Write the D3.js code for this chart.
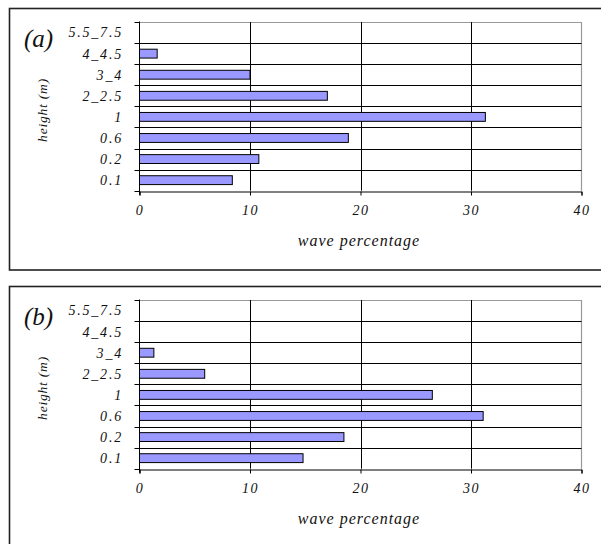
<!DOCTYPE html>
<html>
<head>
<meta charset="utf-8">
<script src="https://cdn.jsdelivr.net/npm/d3@7"></script>
<style>
  body { margin: 0; background: #fff; }
</style>
</head>
<body>
<div id="chart"></div>
<script>
// wave height classes (bottom to top)
var heights = ["0.1", "0.2", "0.6", "1", "2_2.5", "3_4", "4_4.5", "5.5_7.5"];
// wave percentage per class, panel (a) and (b)
var waveA = [8.4, 10.8, 18.9, 31.3, 17.0, 10.0, 1.6, 0];
var waveB = [14.8, 18.5, 31.1, 26.5, 5.9, 1.3, 0, 0];
var xTicks = [0, 10, 20, 30, 40];
var panelLabels = ["(a)", "(b)"];

var width = 601, height = 544;
var serif = "'Liberation Serif', 'Times New Roman', serif";

var svg = d3.select("#chart").append("svg")
    .attr("width", width)
    .attr("height", height);

function styleText(sel, size, spacing) {
    sel.style("font-family", serif)
        .style("font-style", "italic")
        .style("font-size", size + "px")
        .style("letter-spacing", spacing + "px")
        .attr("fill", "#111");
}

function drawPanel(values, label, top) {
    var g = svg.append("g").attr("transform", "translate(0," + top + ")");

    // outer frame
    g.append("rect")
        .attr("x", 9.5).attr("y", 8.5)
        .attr("width", 620).attr("height", 261.5)
        .attr("fill", "none")
        .attr("stroke", "#222")
        .attr("stroke-width", 1.6);

    var x = d3.scaleLinear().domain([0, 40]).range([139.5, 581.5]);
    var y = d3.scaleBand()
        .domain(heights.slice().reverse())
        .range([22, 190.7])
        .paddingInner(0.58)
        .paddingOuter(0.29);
    var step = y.step();
    var bounds = d3.range(heights.length + 1).map(function(i) { return 22 + i * step; });

    // plot area border (top and right in grey)
    g.append("path")
        .attr("d", "M" + x(0) + "," + (Math.round(bounds[0]) + 0.5) + "H" + x(40) + "V" + (bounds[heights.length]))
        .attr("fill", "none")
        .attr("stroke", "#999")
        .attr("stroke-width", 1.2);

    // horizontal gridlines at category boundaries
    g.selectAll("line.hgrid")
        .data(bounds.slice(1, heights.length))
        .enter().append("line")
        .attr("class", "hgrid")
        .attr("x1", x(0)).attr("x2", x(40))
        .attr("y1", function(d) { return Math.round(d) + 0.5; })
        .attr("y2", function(d) { return Math.round(d) + 0.5; })
        .attr("stroke", "#000");

    // vertical gridlines
    g.selectAll("line.vgrid")
        .data([10, 20, 30])
        .enter().append("line")
        .attr("class", "vgrid")
        .attr("x1", function(d) { return Math.round(x(d)) + 0.5; })
        .attr("x2", function(d) { return Math.round(x(d)) + 0.5; })
        .attr("y1", bounds[0]).attr("y2", bounds[heights.length])
        .attr("stroke", "#000");

    // bars
    var data = heights.map(function(h, i) { return { h: h, v: values[i] }; })
        .filter(function(d) { return d.v > 0; });
    g.selectAll("rect.bar")
        .data(data)
        .enter().append("rect")
        .attr("class", "bar")
        .attr("x", x(0))
        .attr("y", function(d) { return y(d.h); })
        .attr("width", function(d) { return x(d.v) - x(0); })
        .attr("height", y.bandwidth())
        .attr("fill", "#9999ff")
        .attr("stroke", "#000")
        .attr("stroke-width", 1);

    // y axis line + ticks at boundaries
    g.append("line")
        .attr("x1", x(0)).attr("x2", x(0))
        .attr("y1", bounds[0] - 0.5).attr("y2", bounds[heights.length] + 4)
        .attr("stroke", "#000");
    g.selectAll("line.ytick")
        .data(bounds)
        .enter().append("line")
        .attr("class", "ytick")
        .attr("x1", x(0) - 5).attr("x2", x(0))
        .attr("y1", function(d) { return Math.round(d) + 0.5; })
        .attr("y2", function(d) { return Math.round(d) + 0.5; })
        .attr("stroke", "#000");

    // x axis
    var xAxis = d3.axisBottom(x).tickValues(xTicks).tickSize(4).tickPadding(10);
    var ax = g.append("g")
        .attr("transform", "translate(0," + (Math.round(bounds[heights.length]) + 0.5) + ")")
        .call(xAxis);
    ax.select(".domain").attr("stroke", "#000");
    ax.selectAll(".tick line").attr("stroke", "#000");
    styleText(ax.selectAll("text"), 14, 1.5);

    // y category labels
    var ylab = g.selectAll("text.ylab")
        .data(heights)
        .enter().append("text")
        .attr("class", "ylab")
        .attr("x", 123)
        .attr("y", function(d) { return y(d) + y.bandwidth() / 2; })
        .attr("dy", "0.35em")
        .attr("text-anchor", "end")
        .text(function(d) { return d; });
    styleText(ylab, 14, 1.8);

    // axis titles
    var xt = g.append("text")
        .attr("x", 359).attr("y", 246)
        .attr("text-anchor", "middle")
        .text("wave percentage");
    styleText(xt, 16, 1);

    var yt = g.append("text")
        .attr("transform", "translate(47,110) rotate(-90)")
        .attr("text-anchor", "middle")
        .text("height (m)");
    styleText(yt, 13.5, 0.8);

    // panel label
    var pl = g.append("text")
        .attr("x", 24).attr("y", 47)
        .text(label);
    styleText(pl, 25, 0);
}

drawPanel(waveA, panelLabels[0], 0);
drawPanel(waveB, panelLabels[1], 278);
</script>
</body>
</html>
